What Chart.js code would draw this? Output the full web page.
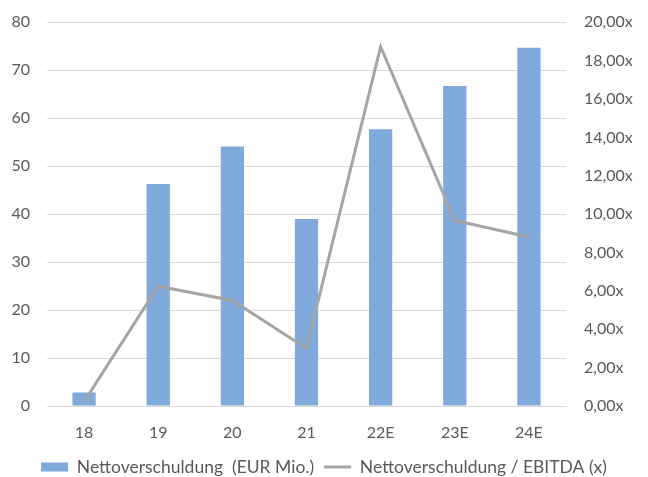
<!DOCTYPE html>
<html>
<head>
<meta charset="utf-8">
<script src="https://cdn.jsdelivr.net/npm/chart.js@4"></script>
<style>
  html, body { margin: 0; padding: 0; background: #fff; }
  #wrap { width: 648px; height: 477px; }
</style>
</head>
<body>
<div id="wrap"><canvas id="chart"></canvas></div>
<script>
const years = ['18', '19', '20', '21', '22E', '23E', '24E'];
const netDebt = [2.8, 46.3, 54.1, 39.0, 57.7, 66.7, 74.7];
const debtToEbitda = [0.23, 6.24, 5.5, 3.0, 18.73, 9.67, 8.81];

const labelColor = '#595959';
const gridColor = '#d9d9d9';
const tickFont = { family: 'Lato, "Open Sans", sans-serif', size: 16 };
const legendFont = { family: 'Lato, "Open Sans", sans-serif', size: 17.5 };

// fixed axis sizes; also drop the vertical padding the tick padding adds
function fixWidth(w) {
    return function(scale) {
        scale.width = w;
        scale.paddingTop = 0;
        scale.paddingBottom = 0;
    };
}

const ctx = document.getElementById('chart').getContext('2d');
const chart = new Chart(ctx, {
    type: 'bar',
    data: {
        labels: years,
        datasets: [
            {
                type: 'line',
                label: 'Nettoverschuldung / EBITDA (x)',
                data: debtToEbitda,
                yAxisID: 'y1',
                borderColor: '#a5a5a5',
                backgroundColor: '#a5a5a5',
                borderWidth: 3,
                pointRadius: 0,
                tension: 0,
                order: 0
            },
            {
                label: 'Nettoverschuldung  (EUR Mio.)',
                data: netDebt,
                yAxisID: 'y',
                backgroundColor: '#7faadb',
                categoryPercentage: 1,
                barPercentage: 0.314,
                order: 1
            }
        ]
    },
    options: {
        responsive: true,
        maintainAspectRatio: false,
        animation: false,
        // negative bottom padding pulls the legend down to where the reference has it
        layout: { padding: { top: 22.3, right: 0, left: 0, bottom: -8.75 } },
        plugins: {
            tooltip: { enabled: false },
            legend: {
                position: 'bottom',
                reverse: true,
                labels: {
                    color: labelColor,
                    font: legendFont,
                    usePointStyle: true,
                    pointStyleWidth: 27,
                    boxHeight: 9,
                    padding: 10,
                    generateLabels: function(chart) {
                        const items = Chart.defaults.plugins.legend.labels.generateLabels(chart);
                        items.forEach(function(item) {
                            const ds = chart.data.datasets[item.datasetIndex];
                            item.pointStyle = ds.type === 'line' ? 'line' : 'rect';
                            item.lineWidth = ds.type === 'line' ? 3 : 0;
                        });
                        return items;
                    }
                }
            }
        },
        scales: {
            x: {
                grid: { display: false, drawTicks: false },
                border: { display: true, color: gridColor },
                ticks: { color: labelColor, font: tickFont, padding: 17 },
                afterFit: function(scale) { scale.height = 42.25; }
            },
            y: {
                position: 'left',
                min: 0,
                max: 80,
                ticks: { stepSize: 10, color: labelColor, font: tickFont, padding: 17 },
                grid: { color: gridColor, drawTicks: false },
                border: { display: false },
                afterFit: fixWidth(47)
            },
            y1: {
                position: 'right',
                min: 0,
                max: 20,
                ticks: {
                    stepSize: 2,
                    color: labelColor,
                    font: tickFont,
                    padding: 18,
                    callback: function(v) { return v.toFixed(2).replace('.', ',') + 'x'; }
                },
                grid: { display: false, drawTicks: false },
                border: { display: false },
                afterFit: fixWidth(82)
            }
        }
    }
});
</script>
</body>
</html>
